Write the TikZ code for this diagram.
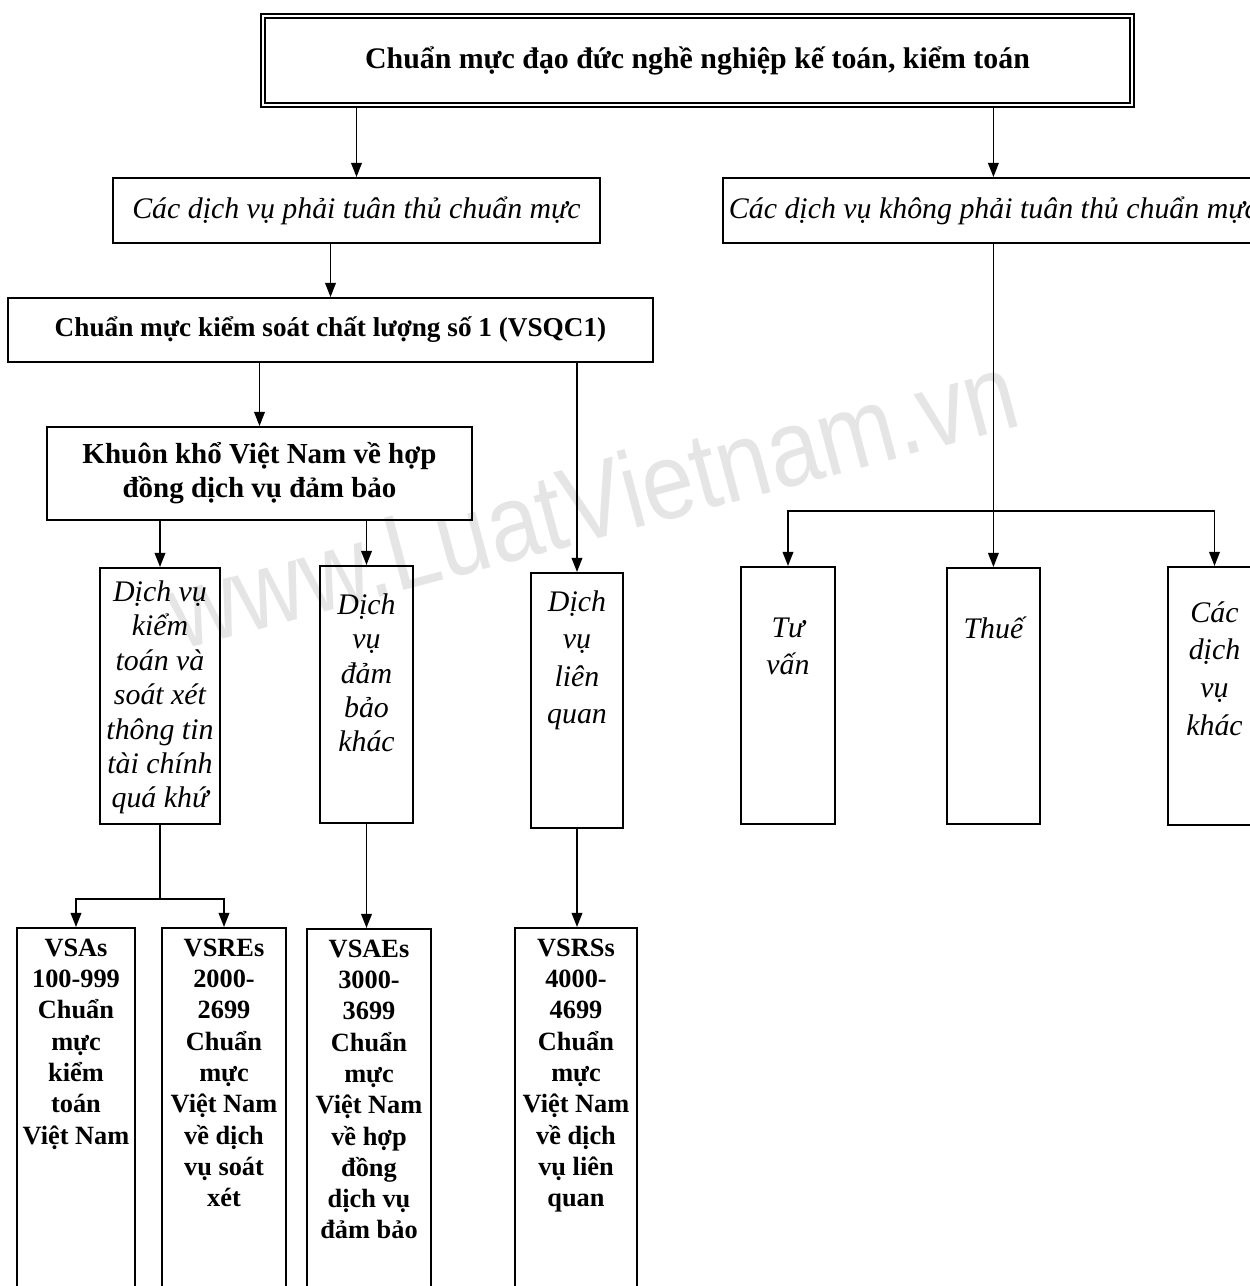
\documentclass[tikz,border=0pt]{standalone}
\usepackage{fontspec}
\setmainfont{Liberation Serif}
\newfontfamily\wmfont{Liberation Sans}
\usetikzlibrary{arrows.meta,positioning}

\tikzset{
  frame/.style={draw, line width=1.1pt, inner sep=0pt},
  link/.style={line width=1pt},
  arr/.style={link, -{Triangle[length=8pt,width=6pt]}},
  ital/.style={font=\fontsize{17}{19.6}\selectfont\itshape, align=center, inner sep=0pt},
  itwide/.style={font=\fontsize{17}{21.4}\selectfont\itshape, align=center, inner sep=0pt},
  bold/.style={font=\fontsize{15}{17.8}\selectfont\bfseries, align=center, inner sep=0pt},
}

\begin{document}
\begin{tikzpicture}[x=0.02cm, y=-0.02cm]
  \useasboundingbox (0,0) rectangle (1250,1286);
  \clip (0,0) rectangle (1250,1286);

  % watermark
  \node[rotate=15, text=black!10, font=\wmfont\fontsize{62}{62}\selectfont] (wm) at (592,500) {\scalebox{0.86}[1]{www.LuatVietnam.vn}};

  % top level
  \node[frame, line width=1pt, double, double distance=1.6pt, minimum width=17.38cm, minimum height=1.78cm, font=\fontsize{17}{20}\selectfont\bfseries] (top) at (697.5,60.5) {Chuẩn mực đạo đức nghề nghiệp kế toán, kiểm toán};

  \node[frame, minimum width=9.74cm, minimum height=1.3cm, font=\fontsize{17}{20}\selectfont\itshape] (phai) at (356.5,210.5) {Các dịch vụ phải tuân thủ chuẩn mực};
  \node[frame, anchor=west, inner xsep=3.4pt, minimum height=1.3cm, font=\fontsize{17}{20}\selectfont\itshape] (khong) at (722,210.5) {Các dịch vụ không phải tuân thủ chuẩn mực};

  \node[frame, minimum width=12.9cm, minimum height=1.28cm, font=\fontsize{15.5}{18}\selectfont\bfseries] (vsqc) at (330.5,330) {Chuẩn mực kiểm soát chất lượng số 1 (VSQC1)};
  \node[frame, minimum width=8.5cm, minimum height=1.86cm, font=\fontsize{16.5}{19.3}\selectfont\bfseries, align=center] (khuon) at (259.5,473.5) {Khuôn khổ Việt Nam về hợp\\đồng dịch vụ đảm bảo};

  % services
  \node[frame, anchor=north, minimum width=2.4cm, minimum height=5.12cm] (kiemtoan) at (160,567) {};
  \node[ital, below=7.5pt of kiemtoan.north] (kiemtoan-t) {Dịch vụ\\kiểm\\toán và\\soát xét\\thông tin\\tài chính\\quá khứ};
  \node[frame, anchor=north, minimum width=1.86cm, minimum height=5.14cm] (dambao) at (366.5,565) {};
  \node[ital, below=16pt of dambao.north] (dambao-t) {Dịch\\vụ\\đảm\\bảo\\khác};
  \node[frame, anchor=north, minimum width=1.84cm, minimum height=5.1cm] (lienquan) at (577,572) {};
  \node[itwide, below=10.3pt of lienquan.north] (lienquan-t) {Dịch\\vụ\\liên\\quan};

  \node[frame, anchor=north, minimum width=1.88cm, minimum height=5.14cm] (tuvan) at (788,566) {};
  \node[itwide, below=29.1pt of tuvan.north] (tuvan-t) {Tư\\vấn};
  \node[frame, anchor=north, minimum width=1.86cm, minimum height=5.12cm] (thue) at (993.5,567) {};
  \node[itwide, below=28.3pt of thue.north] (thue-t) {Thuế};
  \node[frame, anchor=north, minimum width=1.86cm, minimum height=5.16cm] (khac) at (1214.5,566) {};
  \node[itwide, below=20pt of khac.north] (khac-t) {Các\\dịch\\vụ\\khác};

  % standards
  \node[frame, anchor=north, minimum width=2.36cm, minimum height=8cm] (vsas) at (76,927) {};
  \node[bold, below=6.6pt of vsas.north] (vsas-t) {VSAs\\100-999\\Chuẩn\\mực\\kiểm\\toán\\Việt Nam};
  \node[frame, anchor=north, minimum width=2.48cm, minimum height=8cm] (vsres) at (224,927) {};
  \node[bold, below=6.6pt of vsres.north] (vsres-t) {VSREs\\2000-\\2699\\Chuẩn\\mực\\Việt Nam\\về dịch\\vụ soát\\xét};
  \node[frame, anchor=north, minimum width=2.48cm, minimum height=8cm] (vsaes) at (369,928) {};
  \node[bold, below=6.6pt of vsaes.north] (vsaes-t) {VSAEs\\3000-\\3699\\Chuẩn\\mực\\Việt Nam\\về hợp\\đồng\\dịch vụ\\đảm bảo};
  \node[frame, anchor=north, minimum width=2.44cm, minimum height=8cm] (vsrss) at (576,927) {};
  \node[bold, below=6.6pt of vsrss.north] (vsrss-t) {VSRSs\\4000-\\4699\\Chuẩn\\mực\\Việt Nam\\về dịch\\vụ liên\\quan};

  % connectors
  \draw[arr] (top.south -| phai.north) -- (phai.north);
  \draw[arr] (top.south -| khong.north) -- (khong.north);
  \draw[arr] (phai.south -| vsqc.north) -- (vsqc.north);
  \draw[arr] (vsqc.south -| khuon.north) -- (khuon.north);
  \draw[arr] (vsqc.south -| lienquan.north) -- (lienquan.north);
  \draw[arr] (khuon.south -| kiemtoan.north) -- (kiemtoan.north);
  \draw[arr] (khuon.south -| dambao.north) -- (dambao.north);

  \coordinate (rsplit) at (khong.south |- 0,511);
  \draw[arr] (khong.south) -- (khong.south |- thue.north);
  \draw[arr] (rsplit) -| (tuvan.north);
  \draw[arr] (rsplit) -| (khac.north);

  \coordinate (lsplit) at (kiemtoan.south |- 0,899);
  \draw[link] (kiemtoan.south) -- (lsplit);
  \draw[arr] (lsplit) -| (vsas.north);
  \draw[arr] (lsplit) -| (vsres.north);
  \draw[arr] (dambao.south) -- (dambao.south |- vsaes.north);
  \draw[arr] (lienquan.south) -- (lienquan.south |- vsrss.north);
\end{tikzpicture}
\end{document}
